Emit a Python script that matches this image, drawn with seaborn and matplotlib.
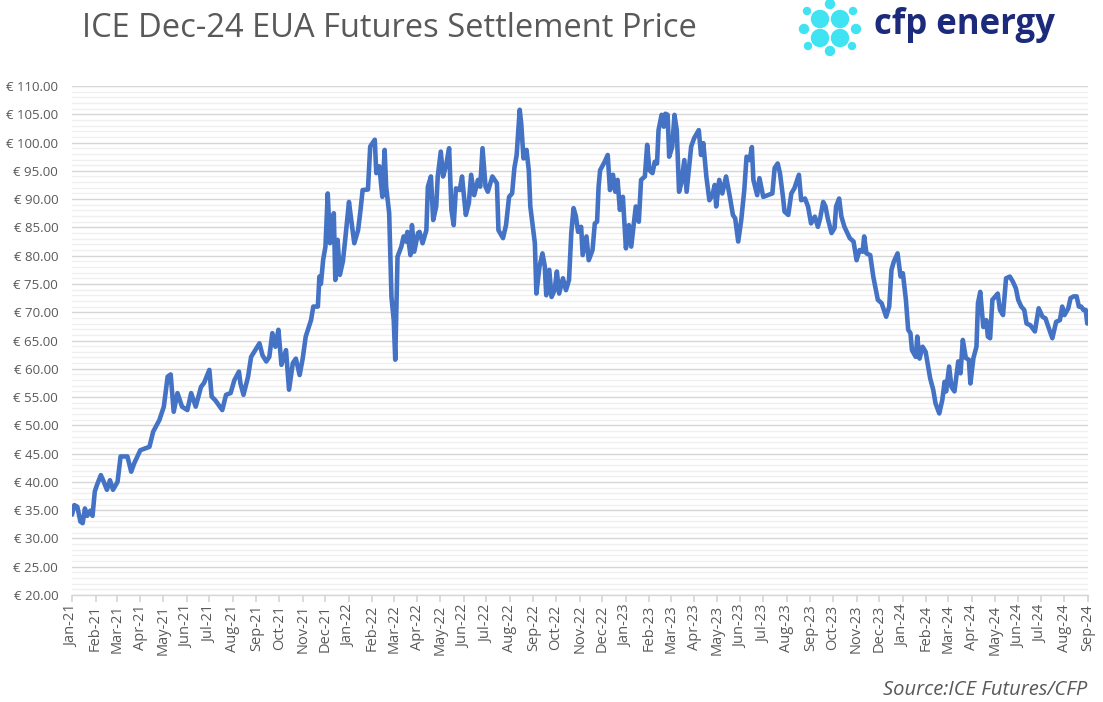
import numpy as np
import pandas as pd
import matplotlib
matplotlib.use("Agg")
import matplotlib.pyplot as plt
import matplotlib.dates as mdates
from matplotlib.ticker import MultipleLocator, FuncFormatter
from matplotlib.patches import Circle
import seaborn as sns

# settlement prices, x given as days after 1 Jan 2021
days = [0, 3, 7, 11, 14, 17, 20, 24, 27, 30, 33, 38, 41, 46, 50, 54, 60, 64, 73, 78,
        82, 90, 102, 107, 115, 121, 126, 130, 134, 139, 145, 152, 157, 163, 170, 174, 181, 184, 189, 198,
        203, 209, 214, 220, 222, 226, 232, 236, 247, 251, 256, 260, 264, 268, 272, 276, 282, 286, 291, 295,
        300, 304, 308, 315, 318, 324, 326, 328, 331, 334, 337, 340, 344, 345, 347, 350, 353, 357, 360, 365,
        368, 372, 377, 380, 383, 390, 393, 399, 401, 405, 409, 412, 414, 418, 421, 424, 426, 429, 434, 437,
        440, 442, 446, 448, 451, 456, 458, 462, 467, 469, 473, 476, 480, 482, 486, 489, 493, 497, 500, 503,
        506, 511, 514, 519, 523, 526, 530, 535, 538, 541, 545, 548, 554, 560, 562, 568, 572, 576, 580, 583,
        586, 590, 592, 595, 599, 602, 604, 610, 612, 616, 620, 623, 625, 629, 632, 636, 639, 642, 647, 651,
        655, 658, 661, 664, 667, 671, 673, 678, 681, 686, 689, 692, 694, 696, 702, 706, 709, 713, 716, 719,
        722, 726, 730, 734, 737, 743, 747, 750, 755, 758, 761, 765, 768, 771, 773, 777, 780, 782, 785, 787,
        791, 794, 797, 800, 803, 807, 810, 816, 820, 826, 829, 832, 836, 840, 844, 847, 849, 853, 857, 862,
        867, 871, 874, 878, 882, 886, 889, 893, 896, 898, 903, 906, 911, 917, 923, 926, 930, 933, 937, 939,
        944, 948, 952, 955, 958, 961, 966, 970, 974, 979, 983, 986, 990, 993, 996, 1001, 1005, 1007, 1011, 1014,
        1018, 1025, 1030, 1034, 1038, 1042, 1044, 1047, 1052, 1056, 1059, 1062, 1067, 1070, 1073, 1077, 1080, 1083, 1088, 1092,
        1095, 1099, 1102, 1105, 1107, 1112, 1114, 1117, 1121, 1125, 1131, 1135, 1138, 1143, 1147, 1150, 1152, 1156, 1159, 1163,
        1168, 1171, 1174, 1178, 1182, 1184, 1188, 1192, 1194, 1197, 1201, 1205, 1207, 1210, 1213, 1217, 1220, 1223, 1227, 1231,
        1236, 1240, 1244, 1247, 1251, 1255, 1258, 1263, 1269, 1274, 1279, 1283, 1286, 1292, 1297, 1302, 1305, 1308, 1313, 1316,
        1320, 1324, 1327, 1330, 1333, 1336, 1338]
prices = [34.2, 35.9, 35.6, 33.0, 32.7, 35.3, 34.0, 34.9, 34.0, 38.3, 39.5, 41.2, 40.3, 38.6, 40.3, 38.6, 40.0, 44.5, 44.5, 41.8,
          43.3, 45.6, 46.2, 48.9, 50.9, 53.3, 58.6, 59.0, 52.4, 55.7, 53.3, 52.7, 55.7, 53.3, 56.8, 57.5, 59.8, 55.1, 54.4, 52.7,
          55.4, 55.7, 58.0, 59.5, 57.4, 55.4, 58.6, 62.1, 64.5, 62.4, 61.3, 62.1, 66.3, 63.9, 66.9, 60.7, 63.3, 56.3, 61.0, 61.8,
          58.9, 61.8, 65.7, 68.6, 71.0, 71.0, 76.3, 75.0, 79.3, 81.6, 91.0, 82.2, 85.1, 87.5, 75.7, 82.8, 76.6, 79.0, 82.8, 89.5,
          86.3, 82.2, 84.5, 87.8, 91.6, 91.7, 99.3, 100.5, 94.6, 95.8, 90.4, 98.7, 92.2, 87.5, 72.7, 68.6, 61.6, 79.8, 81.6, 83.4,
          82.5, 84.2, 80.1, 85.4, 80.7, 84.0, 84.2, 82.2, 84.5, 92.2, 94.0, 86.3, 88.7, 94.0, 98.4, 94.0, 96.0, 99.0, 88.1, 85.4,
          91.9, 91.6, 94.0, 87.2, 89.3, 94.3, 90.7, 93.4, 92.2, 99.0, 92.2, 91.3, 94.0, 92.8, 84.5, 83.1, 85.4, 90.4, 91.0, 95.5,
          97.8, 105.8, 103.4, 97.2, 98.7, 95.1, 88.7, 82.2, 73.3, 78.0, 80.4, 78.2, 73.0, 77.5, 72.7, 73.9, 77.2, 73.3, 76.0, 73.9,
          75.7, 84.0, 88.4, 87.0, 84.2, 85.1, 80.1, 83.4, 79.2, 81.0, 85.7, 86.0, 92.2, 95.1, 96.6, 97.8, 91.6, 94.3, 91.3, 93.4,
          88.1, 90.4, 81.3, 85.4, 81.6, 88.7, 86.0, 93.4, 94.0, 99.6, 95.1, 94.6, 96.6, 96.3, 102.2, 104.9, 102.8, 105.1, 104.9, 97.5,
          99.2, 104.9, 102.2, 91.3, 92.8, 96.9, 91.3, 99.3, 100.8, 102.2, 97.8, 99.9, 94.0, 89.8, 90.7, 92.5, 88.7, 93.4, 91.0, 94.0,
          90.4, 87.2, 86.6, 82.5, 86.3, 91.6, 97.5, 96.9, 99.2, 93.4, 90.7, 93.7, 90.4, 90.7, 91.0, 95.5, 96.3, 94.6, 90.4, 87.8,
          87.2, 91.0, 91.9, 93.1, 94.3, 89.8, 90.1, 88.7, 85.7, 86.9, 85.1, 86.6, 89.5, 88.7, 86.6, 84.0, 84.9, 88.7, 90.1, 86.9,
          85.1, 83.1, 82.5, 79.2, 81.0, 80.7, 83.4, 80.4, 80.1, 76.3, 74.2, 72.2, 71.6, 70.4, 69.2, 71.0, 77.5, 78.9, 80.4, 76.3,
          76.9, 72.2, 66.9, 66.3, 63.3, 62.1, 65.7, 61.8, 63.9, 63.0, 58.3, 56.3, 53.9, 52.1, 54.5, 57.7, 56.0, 60.4, 56.8, 56.0,
          61.3, 59.2, 65.1, 61.9, 61.6, 57.4, 61.9, 63.9, 71.6, 73.6, 67.4, 68.6, 65.7, 65.4, 72.2, 72.8, 73.3, 70.4, 69.5, 76.0,
          76.3, 75.4, 74.2, 72.2, 71.0, 70.4, 68.0, 67.7, 66.6, 70.7, 69.2, 68.9, 67.7, 65.4, 68.3, 68.6, 71.0, 69.5, 70.7, 72.5,
          72.8, 72.8, 71.0, 71.0, 70.4, 70.4, 68.0]

title = "ICE Dec-24 EUA Futures Settlement Price"
source = "Source:ICE Futures/CFP"

df = pd.DataFrame({
    "date": pd.Timestamp("2021-01-01") + pd.to_timedelta(days, unit="D"),
    "price": prices,
})

sns.set_theme(style="white")
plt.rcParams["font.family"] = ["Open Sans", "DejaVu Sans"]

fig = plt.figure(figsize=(11.03, 7.02), dpi=100)
ax = fig.add_axes([0.0653, 0.1524, 0.9211, 0.7251])

sns.lineplot(data=df, x="date", y="price", ax=ax, color="#4472C4",
             linewidth=3.3, solid_joinstyle="round", solid_capstyle="round")

ax.set_xlim(pd.Timestamp("2021-01-01"), pd.Timestamp("2024-09-01"))
ax.set_ylim(20, 110)
ax.set_xlabel("")
ax.set_ylabel("")

ax.xaxis.set_major_locator(mdates.MonthLocator())
ax.xaxis.set_major_formatter(mdates.DateFormatter("%b-%y"))
ax.yaxis.set_major_locator(MultipleLocator(5))
ax.yaxis.set_minor_locator(MultipleLocator(1))
ax.yaxis.set_major_formatter(FuncFormatter(lambda v, p: f"\u20ac {v:.2f}"))

ax.grid(which="major", axis="y", color="#D6D6D6", linewidth=1.0)
ax.grid(which="minor", axis="y", color="#EFEFEF", linewidth=0.9)
ax.set_axisbelow(True)

for s in ["top", "right", "left"]:
    ax.spines[s].set_visible(False)
ax.spines["bottom"].set_color("#D6D6D6")
ax.spines["bottom"].set_linewidth(1.0)

ax.tick_params(axis="x", which="major", rotation=90, labelsize=10.5, labelcolor="#595959",
               bottom=True, length=5, color="#D6D6D6", pad=2)
ax.tick_params(axis="y", which="both", length=0, labelsize=9.5, labelcolor="#595959", pad=10)

fig.text(0.074, 0.96, title, fontsize=23.5, color="#595959", va="center", ha="left")
fig.text(0.986, 0.017, source, fontsize=14.5, color="#595959", style="italic",
         ha="right", va="center")

# logo: cyan dot cluster plus word mark, drawn in pixel coordinates
W, H = 1103, 702
logo = fig.add_axes([0, 0, 1, 1], frameon=False)
logo.set_xlim(0, W)
logo.set_ylim(H, 0)
logo.set_axis_off()
dots = [(820, 19, 8.5), (840, 19, 8.5), (820, 38, 8.5), (840, 38, 8.5),
        (830, 4, 4.5), (807, 11, 3.5), (853, 11, 3.5), (804, 29, 4.5), (856, 29, 4.5),
        (808, 46, 3.5), (852, 46, 3.5), (830, 51, 4.5)]
for x, y, r in dots:
    logo.add_patch(Circle((x, y), r, color="#3FE3F2", zorder=5))
fig.text(0.792, 0.965, "cfp energy", fontsize=25, fontweight="bold", color="#1B2A7A",
         ha="left", va="center")

fig.savefig("out.png", dpi=100)
